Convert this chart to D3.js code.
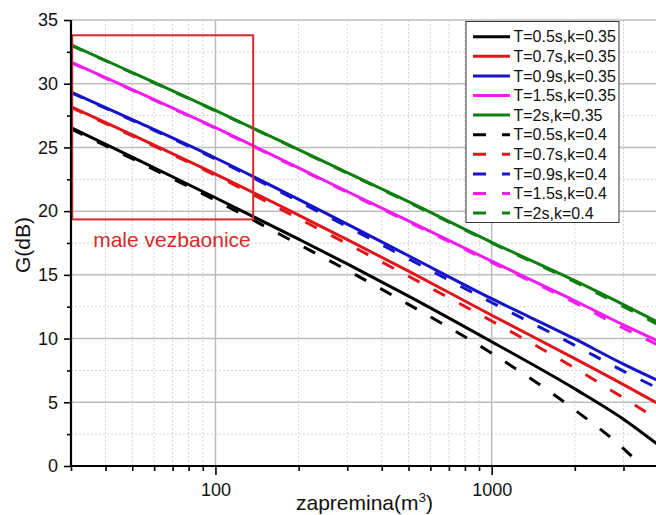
<!DOCTYPE html>
<html>
<head>
<meta charset="utf-8">
<script src="https://cdn.jsdelivr.net/npm/d3@7"></script>
<style>
  html, body { margin: 0; padding: 0; background: #fff; }
  svg { display: block; font-family: Arial, "Liberation Sans", sans-serif; }
</style>
</head>
<body>
<svg id="chart" width="656" height="515"></svg>
<script>
// Room volume (m^3) at which G was read
const volumes = [30, 50, 100, 200, 300, 500, 1000, 2000, 3000, 4000];

// Sound strength G (dB), k = 0.35
const gT05k035 = [26.55, 24.24, 21.05, 17.8, 15.86, 13.33, 9.75, 6.05, 3.67, 1.67];
const gT07k035 = [28.2, 25.98, 22.91, 19.69, 17.77, 15.29, 11.83, 8.43, 6.39, 4.89];
const gT09k035 = [29.35, 27.18, 24.17, 20.92, 18.98, 16.5, 13.13, 9.97, 7.99, 6.7];
const gT15k035 = [31.7, 29.53, 26.55, 23.39, 21.54, 19.23, 16.07, 12.97, 11.07, 9.8];
const gT2k035  = [33.05, 30.88, 27.9, 24.83, 23.02, 20.74, 17.55, 14.54, 12.66, 11.28];

// Sound strength G (dB), k = 0.4
const gT05k04 = [26.45, 24.11, 20.85, 17.4, 15.36, 12.68, 8.85, 4.4, 1.37, -1.33];
const gT07k04 = [28.15, 25.9, 22.81, 19.42, 17.44, 14.89, 11.38, 7.68, 5.34, 3.64];
const gT09k04 = [29.3, 27.12, 24.09, 20.77, 18.78, 16.25, 12.83, 9.47, 7.44, 6.1];
const gT15k04 = [31.66, 29.49, 26.5, 23.33, 21.47, 19.15, 15.97, 12.82, 10.82, 9.5];
const gT2k04  = [33.02, 30.85, 27.87, 24.8, 22.98, 20.69, 17.5, 14.44, 12.51, 11.1];

const seriesNames = [
  "T=0.5s,k=0.35", "T=0.7s,k=0.35", "T=0.9s,k=0.35", "T=1.5s,k=0.35", "T=2s,k=0.35",
  "T=0.5s,k=0.4", "T=0.7s,k=0.4", "T=0.9s,k=0.4", "T=1.5s,k=0.4", "T=2s,k=0.4"
];
const seriesValues = [gT05k035, gT07k035, gT09k035, gT15k035, gT2k035,
                      gT05k04, gT07k04, gT09k04, gT15k04, gT2k04];

const yMajorTicks = [0, 5, 10, 15, 20, 25, 30, 35];
const yMinorTicks = [2.5, 7.5, 12.5, 17.5, 22.5, 27.5, 32.5];
const xMajorTicks = [100, 1000];
const xMinorTicks = [30, 40, 50, 60, 70, 80, 90, 200, 300, 400, 500, 600, 700, 800, 900, 2000, 3000, 4000];

// Highlighted region of small rehearsal rooms (volume range, G range)
const smallRoomVolume = [30.3, 137];
const smallRoomG = [19.35, 33.8];
const smallRoomLabel = "male vezbaonice";

const palette = ["#000000", "#e0161b", "#1414c8", "#f01cf0", "#0f7f0f"];

const svg = d3.select("#chart");
const plotLeft = 71, plotRight = 658, plotTop = 20, plotBottom = 466;

const x = d3.scaleLog().domain([30, 4000]).range([plotLeft, plotRight]);
const y = d3.scaleLinear().domain([0, 35]).range([plotBottom, plotTop]);

// grid
const grid = svg.append("g");
grid.selectAll(".ymin").data(yMinorTicks).join("line")
  .attr("x1", plotLeft).attr("x2", plotRight).attr("y1", d => y(d)).attr("y2", d => y(d))
  .attr("stroke", "#d4d4d4").attr("stroke-width", 1).attr("stroke-dasharray", "2,2");
grid.selectAll(".xmin").data(xMinorTicks.filter(v => v > 30 && v < 4000)).join("line")
  .attr("x1", d => x(d)).attr("x2", d => x(d)).attr("y1", plotTop).attr("y2", plotBottom)
  .attr("stroke", "#d4d4d4").attr("stroke-width", 1).attr("stroke-dasharray", "2,2");
grid.selectAll(".ymaj").data(yMajorTicks.filter(v => v > 0)).join("line")
  .attr("x1", plotLeft).attr("x2", plotRight).attr("y1", d => y(d)).attr("y2", d => y(d))
  .attr("stroke", "#bdbdbd").attr("stroke-width", 1.5);
grid.selectAll(".xmaj").data(xMajorTicks).join("line")
  .attr("x1", d => x(d)).attr("x2", d => x(d)).attr("y1", plotTop).attr("y2", plotBottom)
  .attr("stroke", "#bdbdbd").attr("stroke-width", 1.5);

// clip for curves
svg.append("clipPath").attr("id", "plotClip").append("rect")
  .attr("x", plotLeft).attr("y", plotTop)
  .attr("width", plotRight - plotLeft).attr("height", plotBottom - plotTop);

const line = d3.line()
  .x((d, i) => x(volumes[i]))
  .y(d => y(d))
  .curve(d3.curveMonotoneX);

const curves = svg.append("g").attr("clip-path", "url(#plotClip)");
seriesValues.forEach((vals, s) => {
  curves.append("path")
    .datum(vals)
    .attr("d", line)
    .attr("fill", "none")
    .attr("stroke", palette[s % 5])
    .attr("stroke-width", 3)
    .attr("stroke-dasharray", s >= 5 ? "13,16" : null);
});

// small rooms box + label
svg.append("rect")
  .attr("x", x(smallRoomVolume[0]))
  .attr("y", y(smallRoomG[1]))
  .attr("width", x(smallRoomVolume[1]) - x(smallRoomVolume[0]))
  .attr("height", y(smallRoomG[0]) - y(smallRoomG[1]))
  .attr("fill", "none").attr("stroke", "#d42a2a").attr("stroke-width", 2);
svg.append("text")
  .attr("x", x(smallRoomVolume[0]) + 21)
  .attr("y", y(smallRoomG[0]) + 27.5)
  .attr("fill", "#d42a2a").attr("font-size", "21px")
  .text(smallRoomLabel);

// axes
const fmt = d3.format("d");
const yAxis = svg.append("g").attr("transform", `translate(${plotLeft},0)`)
  .call(d3.axisLeft(y).tickValues(yMajorTicks).tickSize(7).tickPadding(6).tickFormat(fmt));
const yAxisMinor = svg.append("g").attr("transform", `translate(${plotLeft},0)`)
  .call(d3.axisLeft(y).tickValues(yMinorTicks).tickSize(4).tickFormat(""));
const xAxis = svg.append("g").attr("transform", `translate(0,${plotBottom})`)
  .call(d3.axisBottom(x).tickValues(xMajorTicks).tickSize(9).tickPadding(8).tickFormat(fmt));
const xAxisMinor = svg.append("g").attr("transform", `translate(0,${plotBottom})`)
  .call(d3.axisBottom(x).tickValues(xMinorTicks).tickSize(5).tickFormat(""));

[yAxis, yAxisMinor, xAxis, xAxisMinor].forEach(g => {
  g.select(".domain").attr("stroke", "#000").attr("stroke-width", 2.2);
  g.selectAll(".tick line").attr("stroke", "#000").attr("stroke-width", 1.6);
  g.selectAll(".tick text").attr("fill", "#111").attr("font-size", "18px")
    .attr("font-family", "Arial, 'Liberation Sans', sans-serif");
});
yAxisMinor.select(".domain").remove();
xAxisMinor.select(".domain").remove();
yAxis.select(".domain").attr("d", `M0,${plotBottom}V${plotTop}`);
xAxis.select(".domain").attr("d", `M${plotLeft},0H${plotRight}`);

// axis titles
svg.append("text")
  .attr("transform", `translate(30,245) rotate(-90)`)
  .attr("text-anchor", "middle").attr("font-size", "21px").attr("fill", "#111")
  .text("G(dB)");
const xt = svg.append("text")
  .attr("x", (plotLeft + plotRight) / 2).attr("y", 510)
  .attr("text-anchor", "middle").attr("font-size", "21px").attr("fill", "#111");
xt.append("tspan").text("zapremina(m");
xt.append("tspan").attr("font-size", "13.5px").attr("dy", "-8.5").text("3");
xt.append("tspan").attr("dy", "8.5").text(")");

// legend
const lg = svg.append("g");
lg.append("rect").attr("x", 466).attr("y", 21.5).attr("width", 153).attr("height", 201)
  .attr("fill", "#fff").attr("stroke", "#333").attr("stroke-width", 1);
seriesNames.forEach((name, i) => {
  const cy = 36.7 + i * 19.6;
  lg.append("line").attr("x1", 473).attr("x2", 510).attr("y1", cy).attr("y2", cy)
    .attr("stroke", palette[i % 5]).attr("stroke-width", 3)
    .attr("stroke-dasharray", i >= 5 ? "13,16" : null);
  lg.append("text").attr("x", 513.5).attr("y", cy + 5.6)
    .attr("font-size", "16px").attr("fill", "#111").text(name);
});
</script>
</body>
</html>
